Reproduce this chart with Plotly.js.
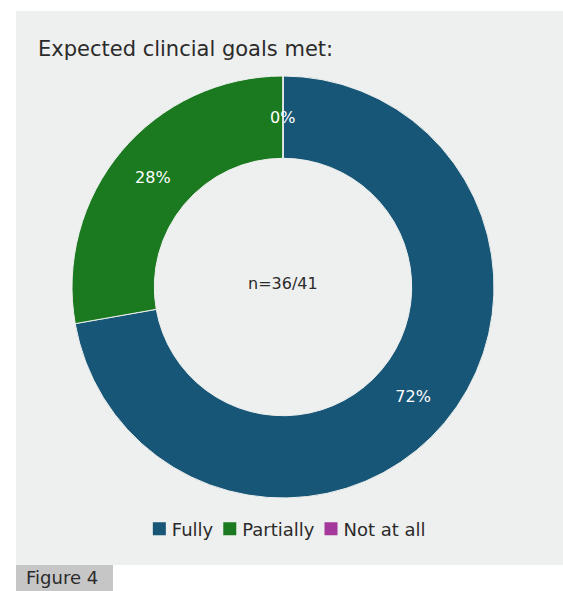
<!DOCTYPE html>
<html>
<head>
<meta charset="utf-8">
<script src="https://cdn.plot.ly/plotly-3.0.1.min.js"></script>
<style>
  html, body { margin: 0; padding: 0; background: #ffffff; width: 563px; height: 591px; overflow: hidden; }
  #panel { position: absolute; left: 16px; top: 11px; width: 547px; height: 554px; background: #eef0ef; }
  #chart { position: absolute; left: 0; top: 0; width: 547px; height: 554px; }
  #fig { position: absolute; left: 16px; top: 565px; width: 97px; height: 26px; background: #c6c6c6;
         font-family: "DejaVu Sans", sans-serif; font-size: 18px; color: #2b2b2b; line-height: 26px; padding-left: 10px; box-sizing: border-box; white-space: nowrap; }
</style>
</head>
<body>
<div id="panel"><div id="chart"></div></div>
<div id="fig">Figure 4</div>
<script>
const categories = ["Fully", "Partially", "Not at all"];
const counts = [26, 10, 0];
const sliceColors = ["#175676", "#1b7a20", "#a4399b"];
const titleText = "Expected clincial goals met:";
const centerText = "n=36/41";

const FONT = "DejaVu Sans, sans-serif";
const TXT = "#2b2b2b";
const W = 547, H = 554;
const dom = { x0: 56, x1: 478, y0: 65, y1: 487 };   // pie domain in px
const HOLE = 0.61;

const trace = {
  type: "pie",
  labels: categories,
  values: counts,
  sort: false,
  direction: "clockwise",
  rotation: 0,
  hole: HOLE,
  marker: { colors: sliceColors, line: { color: "#eef0ef", width: 1 } },
  texttemplate: "%{percent:.0%}",
  textposition: "inside",
  insidetextorientation: "horizontal",
  textfont: { family: FONT, size: 16, color: "#ffffff" },
  hoverinfo: "label+value+percent",
  domain: { x: [dom.x0 / W, dom.x1 / W], y: [1 - dom.y1 / H, 1 - dom.y0 / H] }
};

// Labels for zero-valued slices (Plotly does not draw them): placed at the slice's
// angular position computed from the data, at mid-ring radius.
const total = counts.reduce((a, b) => a + b, 0);
const cx = (dom.x0 + dom.x1) / 2, cy = (dom.y0 + dom.y1) / 2;
const R = Math.min(dom.x1 - dom.x0, dom.y1 - dom.y0) / 2;
const rMid = R * (1 + HOLE) / 2;
const zeroAnn = [];
let cum = 0;
counts.forEach((v, i) => {
  const frac = (cum + v / 2) / total;
  cum += v;
  if (v === 0) {
    const a = frac * 2 * Math.PI;
    const px = cx + rMid * Math.sin(a), py = cy - rMid * Math.cos(a);
    zeroAnn.push({
      text: Math.round(100 * v / total) + "%", showarrow: false,
      xref: "paper", yref: "paper", x: px / W, y: 1 - py / H,
      xanchor: "center", yanchor: "middle",
      font: { family: FONT, size: 16, color: "#ffffff" }
    });
  }
});

const layout = {
  width: W,
  height: H,
  margin: { l: 0, r: 0, t: 0, b: 0 },
  paper_bgcolor: "#eef0ef",
  plot_bgcolor: "#eef0ef",
  font: { family: FONT, color: TXT },
  title: {
    text: titleText,
    font: { family: FONT, size: 21, color: TXT },
    x: 22 / W, xanchor: "left", xref: "paper",
    y: 1 - 38 / H, yanchor: "middle", yref: "paper"
  },
  showlegend: true,
  legend: {
    orientation: "h",
    x: 0.5, xanchor: "center",
    y: 1 - 518 / H, yanchor: "middle",
    font: { family: FONT, size: 18, color: TXT },
    traceorder: "normal",
    bgcolor: "rgba(0,0,0,0)"
  },
  annotations: [{
    text: centerText,
    showarrow: false,
    xref: "paper", yref: "paper",
    x: cx / W, y: 1 - (cy - 4) / H,
    xanchor: "center", yanchor: "middle",
    font: { family: FONT, size: 16, color: TXT }
  }].concat(zeroAnn)
};

Plotly.newPlot("chart", [trace], layout, { displayModeBar: false, staticPlot: true }).then(() => {
  // Compact the legend: larger square swatches, tighter spacing (as in the reference)
  const items = Array.from(document.querySelectorAll("#chart .legend .traces"));
  if (!items.length) return;
  const getT = el => {
    const m = /translate\(\s*([-\d.]+)[ ,]+([-\d.]+)/.exec(el.getAttribute("transform") || "");
    return m ? [parseFloat(m[1]), parseFloat(m[2])] : [0, 0];
  };
  const widths = items.map(it => it.querySelector(".legendtext").getComputedTextLength());
  const first = getT(items[0]), last = getT(items[items.length - 1]);
  const origL = first[0] + 5, origR = last[0] + 40 + widths[widths.length - 1];
  const center = (origL + origR) / 2;
  const sq = 13, gapST = 6, gapI = 10;
  const totalW = widths.reduce((a, w) => a + sq + gapST + w, 0) + gapI * (items.length - 1);
  let x = center - totalW / 2;
  items.forEach((it, i) => {
    const t = getT(it);
    it.setAttribute("transform", `translate(${x},${t[1]})`);
    const txt = it.querySelector(".legendtext");
    txt.setAttribute("x", sq + gapST);
    txt.querySelectorAll("tspan").forEach(ts => { if (ts.hasAttribute("x")) ts.setAttribute("x", sq + gapST); });
    const p = it.querySelector(".legendpoints path");
    if (p) {
      let el = p;
      while (el && el !== it) { el.removeAttribute("transform"); el = el.parentNode; }
      p.setAttribute("d", `M0,${-sq / 2}h${sq}v${sq}h${-sq}z`);
      p.style.strokeWidth = "0";
    }
    const bg = it.querySelector(".legendtoggle");
    if (bg) bg.setAttribute("width", sq + gapST + widths[i]);
    x += sq + gapST + widths[i] + gapI;
  });
});
</script>
</body>
</html>
